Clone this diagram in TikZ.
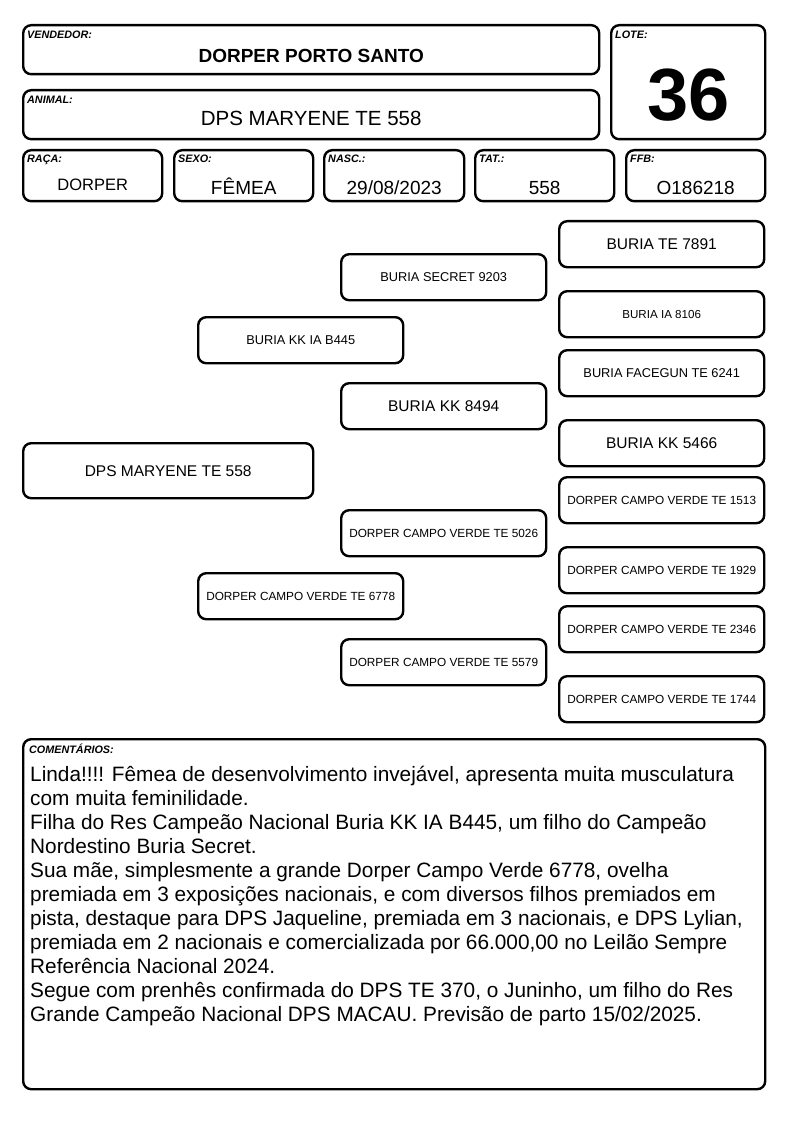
\documentclass[tikz,border=0pt]{standalone}
\usepackage{fontspec}
\setmainfont{Liberation Sans}
\usetikzlibrary{positioning}

\begin{document}
\begin{tikzpicture}[x=1pt, y=-1pt,
    fbox/.style={draw, line width=2.4pt, rounded corners=8pt, inner sep=0pt,
                 anchor=north west},
    flabel/.style={anchor=north west, inner sep=0pt,
                   font=\fontsize{10.8}{11}\selectfont\bfseries\itshape},
    fvalue/.style={anchor=base, inner sep=0pt},
    pbox/.style={fbox, minimum width=205pt, minimum height=46pt, align=center},
    big/.style={font=\fontsize{15.5}{18}\selectfont},
    mid/.style={font=\fontsize{12.8}{15}\selectfont},
    small/.style={font=\fontsize{11.8}{14}\selectfont}
  ]
  \useasboundingbox (0,0) rectangle (794,1123);

  % header
  \node[fbox, minimum width=576pt, minimum height=49pt] (vend) at (22,24) {};
  \node[flabel] (vendL) at ([xshift=5pt, yshift=-7pt]vend.north west) {VENDEDOR:};
  \node[fvalue, font=\fontsize{19}{19}\selectfont\bfseries] (vendV)
    at ([yshift=13pt]vend.south) {DORPER PORTO SANTO};

  \node[fbox, minimum width=576pt, minimum height=49pt] (anim) at (22,89) {};
  \node[flabel] (animL) at ([xshift=5pt, yshift=-7pt]anim.north west) {ANIMAL:};
  \node[fvalue, font=\fontsize{20.5}{21}\selectfont] (animV)
    at ([yshift=15pt]anim.south) {DPS MARYENE TE 558};

  \node[fbox, minimum width=154pt, minimum height=114pt] (lote) at (610,24) {};
  \node[flabel] (loteL) at ([xshift=5pt, yshift=-7pt]lote.north west) {LOTE:};
  \node[fvalue, font=\fontsize{74}{74}\selectfont\bfseries] (loteV)
    at ([yshift=20pt]lote.south) {36};

  % data row
  \node[fbox, minimum width=139pt, minimum height=51pt] (raca) at (22,149) {};
  \node[fbox, minimum width=139pt, minimum height=51pt] (sexo) at (173,149) {};
  \node[fbox, minimum width=140pt, minimum height=51pt] (nasc) at (323,149) {};
  \node[fbox, minimum width=139pt, minimum height=51pt] (tat) at (474,149) {};
  \node[fbox, minimum width=139pt, minimum height=51pt] (ffb) at (625,149) {};
  \node[flabel] (racaL) at ([xshift=5pt, yshift=-6pt]raca.north west) {RAÇA:};
  \node[flabel] (sexoL) at ([xshift=5pt, yshift=-6pt]sexo.north west) {SEXO:};
  \node[flabel] (nascL) at ([xshift=5pt, yshift=-6pt]nasc.north west) {NASC.:};
  \node[flabel] (tatL) at ([xshift=5pt, yshift=-6pt]tat.north west) {TAT.:};
  \node[flabel] (ffbL) at ([xshift=5pt, yshift=-6pt]ffb.north west) {FFB:};
  \node[fvalue, font=\fontsize{16.5}{17}\selectfont] (racaV) at ([yshift=12pt]raca.south) {DORPER};
  \node[fvalue, font=\fontsize{19}{19}\selectfont] (sexoV) at ([yshift=8pt]sexo.south) {FÊMEA};
  \node[fvalue, font=\fontsize{19}{19}\selectfont] (nascV) at ([yshift=8pt]nasc.south) {29/08/2023};
  \node[fvalue, font=\fontsize{19}{19}\selectfont] (tatV) at ([yshift=8pt]tat.south) {558};
  \node[fvalue, font=\fontsize{19}{19}\selectfont] (ffbV) at ([yshift=8pt]ffb.south) {O186218};

  % pedigree
  \node[pbox, big, minimum width=290pt, minimum height=55pt] (ani) at (22,442) {DPS MARYENE TE 558};

  \node[pbox, mid] (pai) at (197,316) {BURIA KK IA B445};
  \node[pbox, small] (mae) at (197,572) {DORPER CAMPO VERDE TE 6778};

  \node[pbox, mid] (avoP) at (340,253) {BURIA SECRET 9203};
  \node[pbox, big] (avoPm) at (340,382) {BURIA KK 8494};
  \node[pbox, small] (avoM) at (340,509) {DORPER CAMPO VERDE TE 5026};
  \node[pbox, small] (avoMm) at (340,638) {DORPER CAMPO VERDE TE 5579};

  \node[pbox, big] (bis1) at (558,220) {BURIA TE 7891};
  \node[pbox, font=\fontsize{11.6}{14}\selectfont] (bis2) at (558,290) {BURIA IA 8106};
  \node[pbox, mid] (bis3) at (558,349) {BURIA FACEGUN TE 6241};
  \node[pbox, big] (bis4) at (558,419) {BURIA KK 5466};
  \node[pbox, small] (bis5) at (558,476) {DORPER CAMPO VERDE TE 1513};
  \node[pbox, small] (bis6) at (558,546) {DORPER CAMPO VERDE TE 1929};
  \node[pbox, small] (bis7) at (558,605) {DORPER CAMPO VERDE TE 2346};
  \node[pbox, small] (bis8) at (558,675) {DORPER CAMPO VERDE TE 1744};

  % comentarios
  \node[fbox, minimum width=742pt, minimum height=350pt] (com) at (22,738) {};
  \node[flabel] (comL) at ([xshift=7pt, yshift=-6pt]com.north west) {COMENTÁRIOS:};
  \node[anchor=north west, inner sep=0pt, align=left,
        font=\fontsize{20.8}{24}\selectfont] (comT) at (30,765.5)
    {Linda!!!! Fêmea de desenvolvimento invejável, apresenta muita musculatura\\
     com muita feminilidade.\\
     Filha do Res Campeão Nacional Buria KK IA B445, um filho do Campeão\\
     Nordestino Buria Secret.\\
     Sua mãe, simplesmente a grande Dorper Campo Verde 6778, ovelha\\
     premiada em 3 exposições nacionais, e com diversos filhos premiados em\\
     pista, destaque para DPS Jaqueline, premiada em 3 nacionais, e DPS Lylian,\\
     premiada em 2 nacionais e comercializada por 66.000,00 no Leilão Sempre\\
     Referência Nacional 2024.\\
     Segue com prenhês confirmada do DPS TE 370, o Juninho, um filho do Res\\
     Grande Campeão Nacional DPS MACAU. Previsão de parto 15/02/2025.};
\end{tikzpicture}
\end{document}
